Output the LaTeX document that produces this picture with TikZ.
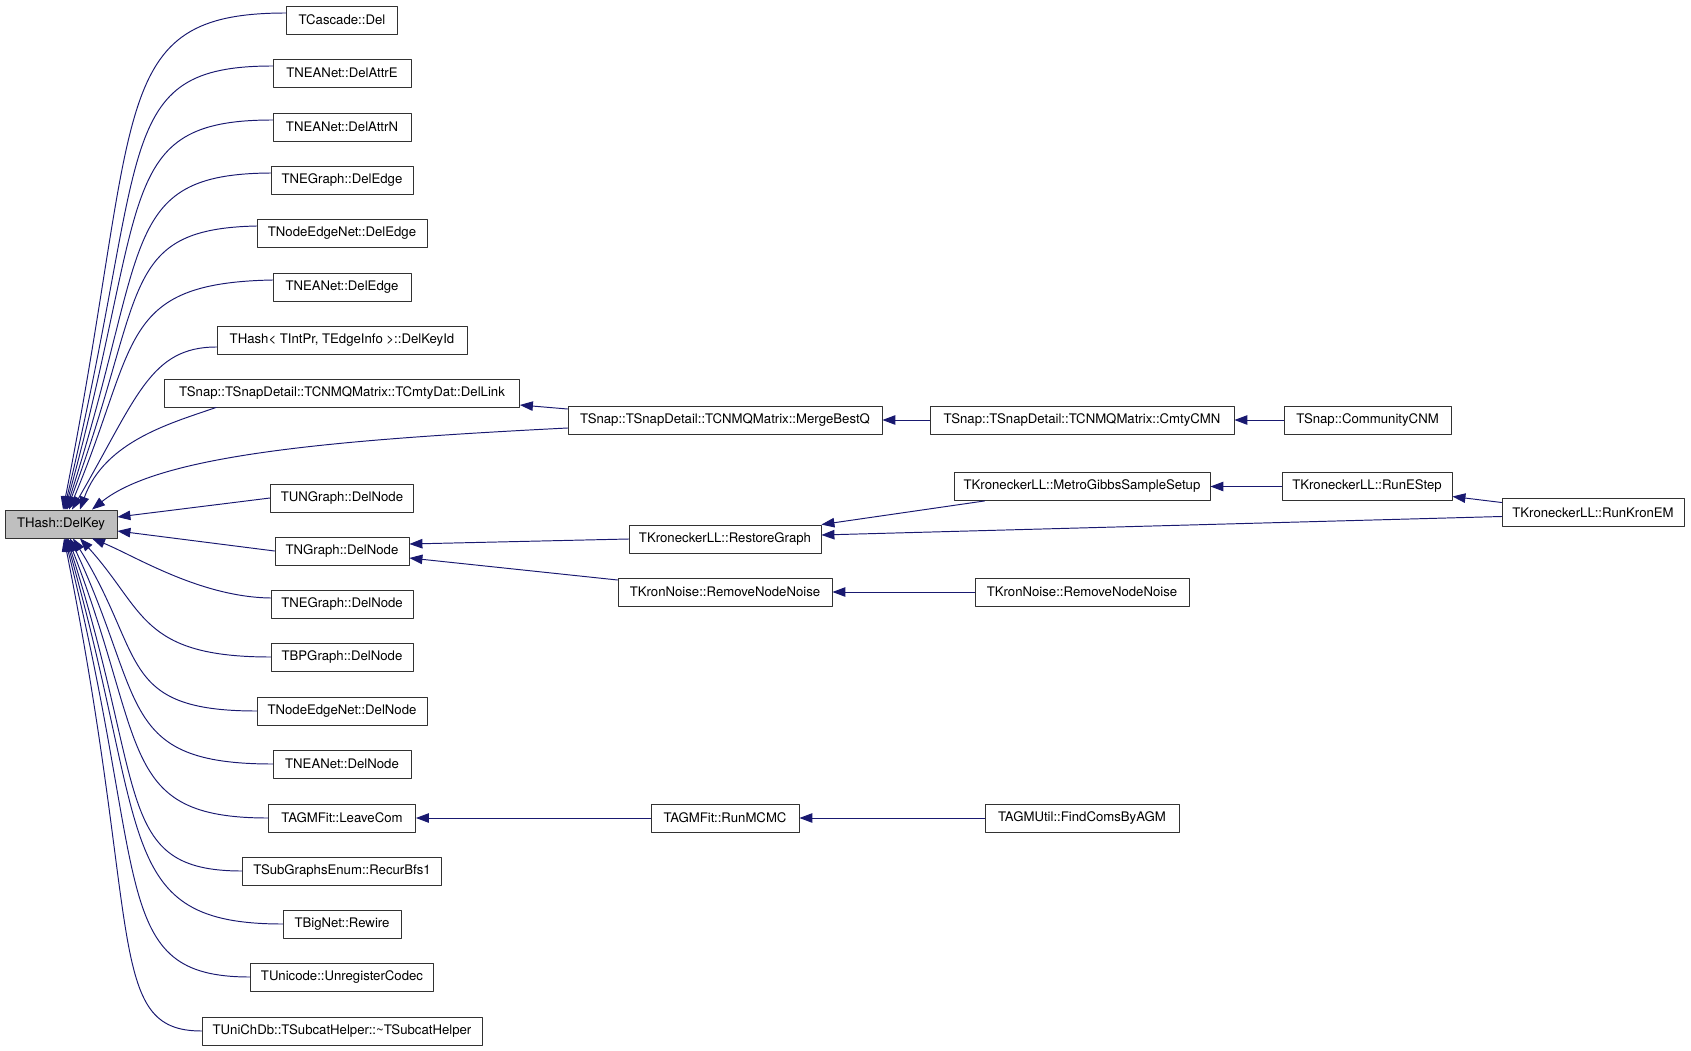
\documentclass[tikz,border=0pt]{standalone}
\usepackage{fontspec}
\setmainfont{TeX Gyre Heros}
\usetikzlibrary{arrows.meta,calc,positioning}
\definecolor{callblue}{RGB}{25,25,112}
\definecolor{keygray}{RGB}{191,191,191}
\definecolor{boxline}{RGB}{50,50,50}

\begin{document}
\begin{tikzpicture}[x=0.02cm,y=-0.02cm,line cap=round,line join=round,
 >={Triangle[length=0.26cm,width=0.19cm]},
 fn/.style={draw=boxline,line width=0.5pt,minimum height=0.56cm,inner sep=0pt,
  font=\fontsize{7.5}{9}\selectfont},
 call/.style={<-,draw=callblue,line width=0.55pt}]
\useasboundingbox (0,0) rectangle (1691,1051);
% The called function, grey, on the far left.
\node[fn,fill=keygray,minimum width=2.24cm] (delkey) at (61,524) {THash::DelKey};
% First column of callers, one row every 53 px.
\node[fn,minimum width=2.22cm] (cascade) at (342,20) {TCascade::Del};
\node[fn,minimum width=2.76cm] (attre) at (342,73) {TNEANet::DelAttrE};
\node[fn,minimum width=2.76cm] (attrn) at (342,127) {TNEANet::DelAttrN};
\node[fn,minimum width=2.84cm] (negedge) at (342,180) {TNEGraph::DelEdge};
\node[fn,minimum width=3.40cm] (nenedge) at (342,233) {TNodeEdgeNet::DelEdge};
\node[fn,minimum width=2.76cm] (neaedge) at (342,287) {TNEANet::DelEdge};
\node[fn,minimum width=5.00cm] (delkeyid) at (342,340) {THash< TIntPr, TEdgeInfo >::DelKeyId};
\node[fn,minimum width=7.10cm] (dellink) at (342,393) {TSnap::TSnapDetail::TCNMQMatrix::TCmtyDat::DelLink};
\node[fn,minimum width=2.86cm] (ungnode) at (342,498) {TUNGraph::DelNode};
\node[fn,minimum width=2.68cm] (ngnode) at (342,551) {TNGraph::DelNode};
\node[fn,minimum width=2.84cm] (negnode) at (342,604) {TNEGraph::DelNode};
\node[fn,minimum width=2.84cm] (bpgnode) at (342,657) {TBPGraph::DelNode};
\node[fn,minimum width=3.40cm] (nennode) at (342,711) {TNodeEdgeNet::DelNode};
\node[fn,minimum width=2.76cm] (neanode) at (342,764) {TNEANet::DelNode};
\node[fn,minimum width=2.94cm] (leavecom) at (342,818) {TAGMFit::LeaveCom};
\node[fn,minimum width=3.98cm] (recurbfs) at (342,871) {TSubGraphsEnum::RecurBfs1};
\node[fn,minimum width=2.36cm] (rewire) at (342,924) {TBigNet::Rewire};
\node[fn,minimum width=3.66cm] (unreg) at (342,977) {TUnicode::UnregisterCodec};
\node[fn,minimum width=5.60cm] (subcat) at (342,1031) {TUniChDb::TSubcatHelper::\textasciitilde TSubcatHelper};
% Callers further out.
\node[fn,minimum width=6.28cm] (mergebestq) at (725,420) {TSnap::TSnapDetail::TCNMQMatrix::MergeBestQ};
\node[fn,minimum width=3.84cm] (restoregraph) at (725,539) {TKroneckerLL::RestoreGraph};
\node[fn,minimum width=4.28cm] (noisemid) at (725,592) {TKronNoise::RemoveNodeNoise};
\node[fn,minimum width=2.96cm] (runmcmc) at (725,818) {TAGMFit::RunMCMC};
\node[fn,minimum width=6.08cm] (cmtycmn) at (1082,420) {TSnap::TSnapDetail::TCNMQMatrix::CmtyCMN};
\node[fn,minimum width=5.12cm] (metrogibbs) at (1082,486.5) {TKroneckerLL::MetroGibbsSampleSetup};
\node[fn,minimum width=4.28cm] (noiseright) at (1082,592) {TKronNoise::RemoveNodeNoise};
\node[fn,minimum width=3.88cm] (findcoms) at (1082,818) {TAGMUtil::FindComsByAGM};
\node[fn,minimum width=3.34cm] (communitycnm) at (1367.5,420) {TSnap::CommunityCNM};
\node[fn,minimum width=3.40cm] (runestep) at (1367,486.5) {TKroneckerLL::RunEStep};
\node[fn,minimum width=3.64cm] (runkronem) at (1593,512.5) {TKroneckerLL::RunKronEM};
% Curves into the top of DelKey.
\draw[call] ([xshift=0.04cm]delkey.north) .. controls (142,110) and (105,13) .. ([yshift=0.14cm]cascade.west);
\draw[call] ([xshift=0.06cm]delkey.north) .. controls (150,152) and (110,66) .. ([yshift=0.14cm]attre.west);
\draw[call] ([xshift=0.08cm]delkey.north) .. controls (150,200) and (113,120) .. ([yshift=0.14cm]attrn.west);
\draw[call] ([xshift=0.10cm]delkey.north) .. controls (150,248) and (117,174) .. ([yshift=0.14cm]negedge.west);
\draw[call] ([xshift=0.12cm]delkey.north) .. controls (147,295) and (117,229) .. ([yshift=0.14cm]nenedge.west);
\draw[call] ([xshift=0.16cm]delkey.north) .. controls (139,343) and (117,283) .. ([yshift=0.14cm]neaedge.west);
\draw[call] ([xshift=0.22cm]delkey.north) .. controls (137,397.4) and (150,347) .. ([yshift=-0.14cm]delkeyid.west);
\draw[call] ([xshift=0.38cm]delkey.north) .. controls (105,440) and (175,422) .. ([xshift=1.04cm]dellink.south west);
\draw[call] ([xshift=0.62cm]delkey.north) .. controls (160,455) and (330,440) .. ([yshift=-0.16cm]mergebestq.west);
% Straight calls on the right of DelKey.
\draw[call] ([yshift=0.14cm]delkey.east) -- (ungnode.west);
\draw[call] ([yshift=-0.14cm]delkey.east) -- (ngnode.west);
% Curves into the bottom of DelKey.
\draw[call] ([xshift=0.62cm]delkey.south) .. controls (135,556) and (200,597) .. ([yshift=0.12cm]negnode.west);
\draw[call] ([xshift=0.38cm]delkey.south) .. controls (145,610) and (140,657) .. (bpgnode.west);
\draw[call] ([xshift=0.24cm]delkey.south) .. controls (146,655) and (117,711) .. (nennode.west);
\draw[call] ([xshift=0.18cm]delkey.south) .. controls (146,700) and (117,764) .. (neanode.west);
\draw[call] ([xshift=0.14cm]delkey.south) .. controls (148,745) and (117,818) .. (leavecom.west);
\draw[call] ([xshift=0.12cm]delkey.south) .. controls (148,790) and (113,871) .. (recurbfs.west);
\draw[call] ([xshift=0.10cm]delkey.south) .. controls (150,834) and (113,924) .. (rewire.west);
\draw[call] ([xshift=0.08cm]delkey.south) .. controls (150,880) and (108,977) .. (unreg.west);
\draw[call] ([xshift=0.06cm]delkey.south) .. controls (142,928) and (105,1031) .. (subcat.west);
% Deeper call chains.
\draw[call] ([yshift=-0.24cm]dellink.east) -- ([yshift=0.22cm]mergebestq.west);
\draw[call] (mergebestq.east) -- (cmtycmn.west);
\draw[call] (cmtycmn.east) -- (communitycnm.west);
\draw[call] ([yshift=0.14cm]ngnode.east) -- (restoregraph.west);
\draw[call] ([yshift=-0.14cm]ngnode.east) -- ([yshift=0.24cm]noisemid.west);
\draw[call] (restoregraph.north east) -- ([xshift=0.62cm]metrogibbs.south west);
\draw[call] ([yshift=0.08cm]restoregraph.east) -- ([yshift=-0.08cm]runkronem.west);
\draw[call] (metrogibbs.east) -- (runestep.west);
\draw[call] ([yshift=-0.2cm]runestep.east) -- ([yshift=0.2cm]runkronem.west);
\draw[call] (noisemid.east) -- (noiseright.west);
\draw[call] (leavecom.east) -- (runmcmc.west);
\draw[call] (runmcmc.east) -- (findcoms.west);
\end{tikzpicture}
\end{document}
